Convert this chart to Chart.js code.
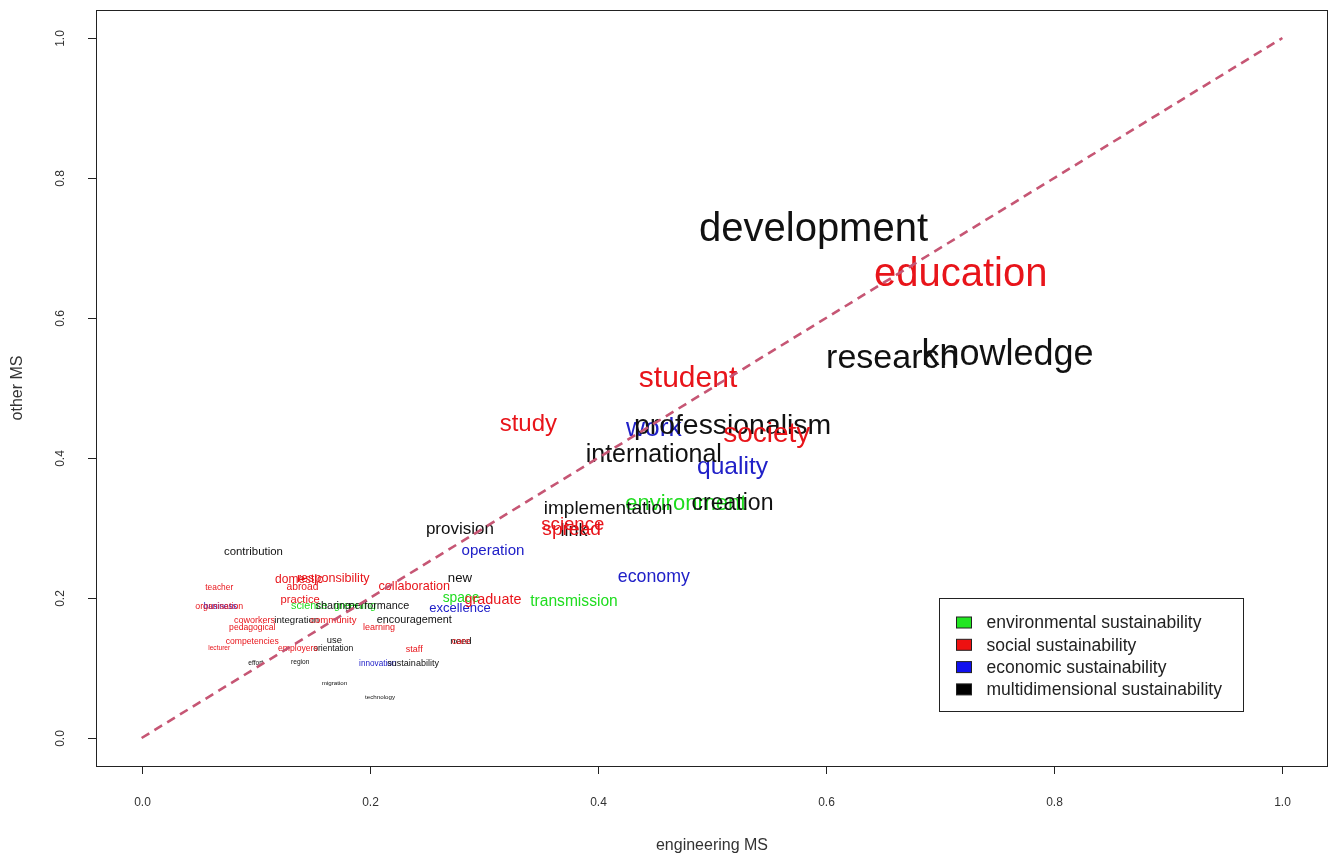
<!DOCTYPE html>
<html>
<head>
<meta charset="utf-8">
<script src="https://cdn.jsdelivr.net/npm/chart.js@4.4.1/dist/chart.umd.min.js"></script>
<style>
  html, body { margin: 0; padding: 0; background: #ffffff; }
  canvas { display: block; }
</style>
</head>
<body>
<canvas id="chart" width="1329" height="858"></canvas>
<script>
// Axis ticks
const tickValues = [0, 0.2, 0.4, 0.6, 0.8, 1.0];
const tickLabels = ['0.0', '0.2', '0.4', '0.6', '0.8', '1.0'];

// Sustainability dimensions (legend order)
const groupNames = [
  'environmental sustainability',
  'social sustainability',
  'economic sustainability',
  'multidimensional sustainability'
];
const groupKeys = ['env', 'soc', 'eco', 'multi'];

// Terms, their dimension, relative frequency in engineering / other mission statements, and text scale (cex)
const words = [
  'development', 'education', 'research', 'knowledge', 'student', 'study', 'professionalism', 'work',
  'society', 'international', 'quality', 'implementation', 'environment', 'creation', 'science', 'spread',
  'link', 'provision', 'operation', 'economy', 'transmission', 'graduate', 'space', 'excellence',
  'new', 'collaboration', 'encouragement', 'learning', 'responsibility', 'domestic', 'abroad', 'practice',
  'contribution', 'teacher', 'organisation', 'business', 'science', 'sharing', 'greening', 'performance',
  'community', 'integration', 'coworkers', 'pedagogical', 'competencies', 'lecturer', 'use', 'orientation',
  'employers', 'effort', 'region', 'migration', 'technology', 'staff', 'care', 'need',
  'innovation', 'sustainability'
];
const wordGroup = [
  'multi', 'soc', 'multi', 'multi', 'soc', 'soc', 'multi', 'eco',
  'soc', 'multi', 'eco', 'multi', 'env', 'multi', 'soc', 'soc',
  'multi', 'multi', 'eco', 'eco', 'env', 'soc', 'env', 'eco',
  'multi', 'soc', 'multi', 'soc', 'soc', 'soc', 'soc', 'soc',
  'multi', 'soc', 'soc', 'eco', 'env', 'multi', 'env', 'multi',
  'soc', 'multi', 'soc', 'soc', 'soc', 'soc', 'multi', 'multi',
  'soc', 'multi', 'multi', 'multi', 'multi', 'soc', 'soc', 'multi',
  'eco', 'multi'
];
const engineeringMS = [
  0.589, 0.718, 0.658, 0.759, 0.479, 0.339, 0.518, 0.449,
  0.548, 0.449, 0.518, 0.409, 0.477, 0.518, 0.378, 0.377,
  0.379, 0.279, 0.308, 0.449, 0.379, 0.308, 0.280, 0.279,
  0.279, 0.239, 0.239, 0.208, 0.168, 0.138, 0.141, 0.139,
  0.098, 0.068, 0.068, 0.069, 0.147, 0.168, 0.187, 0.208,
  0.168, 0.136, 0.099, 0.097, 0.097, 0.068, 0.169, 0.168,
  0.137, 0.100, 0.139, 0.169, 0.209, 0.239, 0.280, 0.280,
  0.207, 0.238
];
const otherMS = [
  0.730, 0.666, 0.546, 0.550, 0.516, 0.450, 0.449, 0.444,
  0.437, 0.406, 0.389, 0.329, 0.337, 0.337, 0.307, 0.299,
  0.297, 0.300, 0.269, 0.231, 0.197, 0.199, 0.201, 0.187,
  0.230, 0.217, 0.169, 0.159, 0.229, 0.227, 0.217, 0.199,
  0.267, 0.216, 0.189, 0.189, 0.189, 0.189, 0.189, 0.189,
  0.169, 0.169, 0.169, 0.159, 0.139, 0.129, 0.140, 0.129,
  0.129, 0.107, 0.109, 0.079, 0.059, 0.127, 0.139, 0.139,
  0.107, 0.107
];
const wordCex = [
  3.33, 3.33, 2.83, 3.0, 2.5, 2.0, 2.37, 2.2,
  2.33, 2.08, 2.05, 1.58, 1.83, 1.92, 1.55, 1.6,
  1.5, 1.42, 1.26, 1.48, 1.3, 1.2, 1.15, 1.08,
  1.1, 1.05, 0.9, 0.75, 1.05, 1.0, 0.86, 0.93,
  0.95, 0.7, 0.73, 0.7, 0.9, 0.9, 0.9, 0.9,
  0.8, 0.8, 0.75, 0.72, 0.72, 0.55, 0.78, 0.72,
  0.72, 0.55, 0.55, 0.52, 0.52, 0.75, 0.8, 0.8,
  0.68, 0.75
];

const textColors = { env: '#1fdc1f', soc: '#e8141a', eco: '#2020c8', multi: '#111111' };
const swatchColors = { env: '#22e622', soc: '#ee1111', eco: '#1010ee', multi: '#000000' };
const FONT = '"Liberation Sans", Arial, Helvetica, sans-serif';
const BASE_PX = 12;

// Words are drawn per dimension; this order decides what ends up on top where terms overlap
const drawOrder = ['env', 'eco', 'multi', 'soc'];

const wordDatasets = drawOrder.map(key => ({
  label: groupNames[groupKeys.indexOf(key)],
  groupKey: key,
  isWordLayer: true,
  data: words
    .map((w, i) => ({ x: engineeringMS[i], y: otherMS[i], word: w, cex: wordCex[i], g: wordGroup[i] }))
    .filter(d => d.g === key),
  pointRadius: 0,
  pointHoverRadius: 0,
  showLine: false
}));

const diagonal = {
  type: 'line',
  label: 'equal share',
  data: [{ x: 0, y: 0 }, { x: 1, y: 1 }],
  borderColor: 'rgb(198, 86, 116)',
  borderWidth: 2.6,
  borderDash: [9, 6],
  pointRadius: 0,
  fill: false
};

// Word labels centred on their (engineering, other) position
const wordLabels = {
  id: 'wordLabels',
  beforeDatasetsDraw(chart) {
    const ctx = chart.ctx;
    ctx.save();
    ctx.textAlign = 'center';
    ctx.textBaseline = 'middle';
    chart.data.datasets.forEach((ds, di) => {
      if (!ds.isWordLayer) return;
      const meta = chart.getDatasetMeta(di);
      ctx.fillStyle = textColors[ds.groupKey];
      meta.data.forEach((pt, j) => {
        const d = ds.data[j];
        const size = BASE_PX * d.cex;
        ctx.font = size.toFixed(1) + 'px ' + FONT;
        ctx.fillText(d.word, pt.x, pt.y + size * 0.07);
      });
    });
    ctx.restore();
  }
};

// Box, tick marks, tick labels and axis titles
const frameAxes = {
  id: 'frameAxes',
  afterDraw(chart) {
    const ctx = chart.ctx;
    const a = chart.chartArea;
    const xs = chart.scales.x, ys = chart.scales.y;
    ctx.save();
    ctx.strokeStyle = '#222';
    ctx.lineWidth = 1;
    ctx.strokeRect(Math.round(a.left) + 0.5, Math.round(a.top) + 0.5,
                   Math.round(a.right - a.left) - 1, Math.round(a.bottom - a.top));
    ctx.fillStyle = '#333';
    ctx.font = '12px ' + FONT;
    ctx.textAlign = 'center';
    ctx.textBaseline = 'middle';
    tickValues.forEach((v, i) => {
      const px = Math.round(xs.getPixelForValue(v)) + 0.5;
      ctx.beginPath();
      ctx.moveTo(px, a.bottom);
      ctx.lineTo(px, a.bottom + 8);
      ctx.stroke();
      ctx.fillText(tickLabels[i], px, a.bottom + 37);
    });
    tickValues.forEach((v, i) => {
      const py = Math.round(ys.getPixelForValue(v)) + 0.5;
      ctx.beginPath();
      ctx.moveTo(a.left, py);
      ctx.lineTo(a.left - 8, py);
      ctx.stroke();
      ctx.save();
      ctx.translate(a.left - 35, py);
      ctx.rotate(-Math.PI / 2);
      ctx.fillText(tickLabels[i], 0, 0);
      ctx.restore();
    });
    ctx.font = '16px ' + FONT;
    ctx.fillText('engineering MS', (a.left + a.right) / 2, a.bottom + 80);
    ctx.save();
    ctx.translate(18, (a.top + a.bottom) / 2);
    ctx.rotate(-Math.PI / 2);
    ctx.fillText('other MS', 0, 0);
    ctx.restore();
    ctx.restore();
  }
};

// Legend box inside the plot, lower right
const legendBox = {
  id: 'legendBox',
  afterDraw(chart) {
    const ctx = chart.ctx;
    const a = chart.chartArea;
    const w = 304, h = 113;
    const x0 = Math.round(a.right - 85 - w) + 0.5;
    const y0 = Math.round(a.bottom - 55 - h) + 0.5;
    ctx.save();
    ctx.fillStyle = '#fff';
    ctx.fillRect(x0, y0, w, h);
    ctx.strokeStyle = '#222';
    ctx.lineWidth = 1;
    ctx.strokeRect(x0, y0, w, h);
    ctx.font = '17.5px ' + FONT;
    ctx.textAlign = 'left';
    ctx.textBaseline = 'middle';
    groupNames.forEach((name, i) => {
      const key = groupKeys[i];
      const cy = y0 + 24 + i * 22.3;
      ctx.fillStyle = swatchColors[key];
      ctx.fillRect(x0 + 17, cy - 5.5, 15, 11);
      ctx.strokeStyle = '#222';
      ctx.strokeRect(x0 + 17, cy - 5.5, 15, 11);
      ctx.fillStyle = '#222';
      ctx.fillText(name, x0 + 47, cy + 1);
    });
    ctx.restore();
  }
};

new Chart(document.getElementById('chart').getContext('2d'), {
  type: 'scatter',
  data: { datasets: [...wordDatasets, diagonal] },
  options: {
    responsive: false,
    animation: false,
    devicePixelRatio: 1,
    layout: { padding: { left: 96, right: 1, top: 10, bottom: 92 } },
    scales: {
      x: { type: 'linear', min: -0.04, max: 1.04, display: false },
      y: { type: 'linear', min: -0.04, max: 1.04, display: false }
    },
    plugins: {
      legend: { display: false },
      tooltip: { enabled: false }
    },
    events: []
  },
  plugins: [wordLabels, frameAxes, legendBox]
});
</script>
</body>
</html>
